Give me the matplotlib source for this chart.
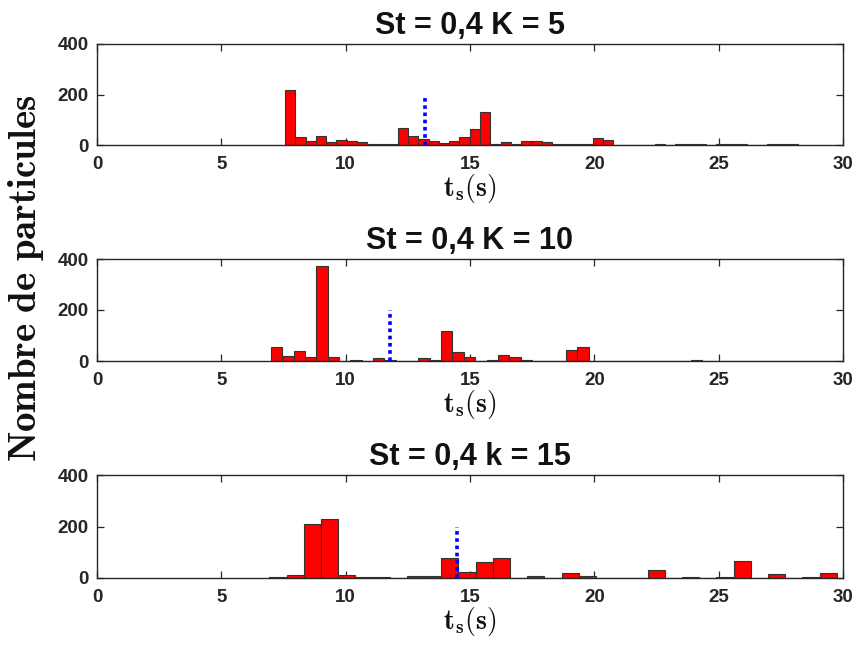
import numpy as np
import matplotlib
matplotlib.use("Agg")
import matplotlib.pyplot as plt

# ---------------------------------------------------------------
# Data
# ---------------------------------------------------------------
titles = ["St = 0,4 K = 5", "St = 0,4 K = 10", "St = 0,4 k = 15"]

# histogram ranges (first edge, last edge) and counts per bin
ranges = [(7.56, 28.20), (7.00, 29.80), (6.93, 29.75)]

counts_k5 = [217, 33, 15, 37, 13, 21, 15, 11, 2, 2,
             5, 69, 35, 23, 16, 8, 16, 31, 65, 130,
             4, 11, 5, 15, 17, 11, 5, 3, 3, 5,
             27, 19, 1, 0, 0, 1, 2, 1, 2, 3,
             3, 1, 3, 4, 2, 0, 1, 2, 3, 2]

counts_k10 = [56, 20, 40, 14, 372, 14, 0, 4, 0, 10,
              3, 0, 0, 10, 4, 116, 34, 14, 0, 3,
              22, 14, 3, 0, 0, 0, 43, 54, 0, 0,
              0, 0, 0, 0, 0, 0, 0, 2, 0, 0,
              0, 0, 0, 0, 0, 0, 0, 0, 0, 0]

counts_k15 = [2, 13, 210, 230, 13, 5, 2, 1, 9, 9,
              78, 23, 62, 78, 1, 6, 1, 20, 8, 0,
              0, 0, 32, 0, 4, 0, 3, 65, 0, 14,
              0, 5, 19]

mean_times = [13.19, 11.78, 14.46]
mean_line_top = 200

all_counts = [counts_k5, counts_k10, counts_k15]

xticks = [0, 5, 10, 15, 20, 25, 30]
yticks = [0, 200, 400]

# ---------------------------------------------------------------
# Style
# ---------------------------------------------------------------
plt.rcParams["font.family"] = ["Liberation Sans", "DejaVu Sans"]
plt.rcParams["mathtext.fontset"] = "cm"
AXCOL = "#262626"

fig = plt.figure(figsize=(8.56, 6.46), dpi=100)

left, width = 97 / 856, 746 / 856
bottoms_px = [145, 361, 578]
heights_px = [101, 102, 103]

for i in range(3):
    b = 1 - bottoms_px[i] / 646
    h = heights_px[i] / 646
    ax = fig.add_axes([left, b, width, h])

    counts = np.array(all_counts[i])
    lo, hi = ranges[i]
    edges = np.linspace(lo, hi, len(counts) + 1)
    ax.bar(edges[:-1], counts, width=np.diff(edges), align="edge",
           color="#ff0000", edgecolor="#333333", linewidth=0.8, zorder=2)

    ax.plot([mean_times[i], mean_times[i]], [0, mean_line_top],
            color="#0000ff", linestyle=(0, (1, 1)), linewidth=2.6, zorder=3)

    ax.set_xlim(0, 30)
    ax.set_ylim(0, 400)
    ax.set_xticks(xticks)
    ax.set_yticks(yticks)
    ax.tick_params(direction="in", length=5, width=0.9, color=AXCOL,
                   top=True, right=True, labelsize=13.5, labelcolor=AXCOL)
    ax.tick_params(axis="x", pad=8)
    ax.tick_params(axis="y", pad=6)
    for lab in ax.get_xticklabels() + ax.get_yticklabels():
        lab.set_fontweight("bold")
    for sp in ax.spines.values():
        sp.set_color(AXCOL)
        sp.set_linewidth(1.0)

    ax.set_title(titles[i], fontsize=22, fontweight="bold", color="#111111",
                 pad=7)
    ax.set_xlabel(r"$\mathbf{t_s(s)}$", fontsize=20, color="#111111",
                  labelpad=-1)

fig.text(26 / 856, 1 - 278 / 646, r"$\mathbf{Nombre\ de\ particules}$",
         rotation=90, ha="center", va="center", fontsize=28,
         color="#111111")

fig.savefig("out.png", dpi=100)
